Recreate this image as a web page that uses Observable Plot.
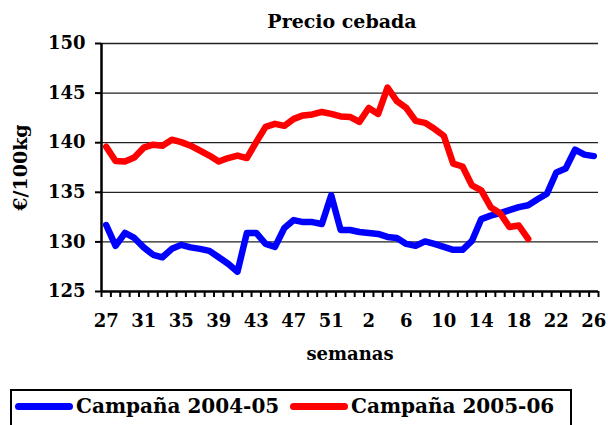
<!DOCTYPE html>
<html>
<head>
<meta charset="utf-8">
<script src="https://cdn.jsdelivr.net/npm/d3@7"></script>
<script src="https://cdn.jsdelivr.net/npm/@observablehq/plot@0.6"></script>
<style>
  body { margin: 0; background: #fff; width: 608px; height: 425px; overflow: hidden; font-family: "DejaVu Serif", serif; font-weight: bold; position: relative; }
  #title { position: absolute; left: 0; width: 608px; box-sizing: border-box; padding-left: 76px; text-align: center; font-size: 19px; line-height: 19px; top: 12px; }
  #chart { position: absolute; left: 0; top: 34px; }
  #legend { position: absolute; left: 10px; top: 389px; width: 562px; height: 60px; box-sizing: border-box; border: 2px solid #000; }
  .item { position: absolute; top: 3px; font-size: 20px; line-height: 24px; white-space: nowrap; display: flex; align-items: center; }
  .swatch { width: 58px; height: 7px; border-radius: 4px; margin-right: 3px; }
</style>
</head>
<body>
<div id="title">Precio cebada</div>
<div id="chart"></div>
<div id="legend"></div>
<script>
const weeks = [27,28,29,30,31,32,33,34,35,36,37,38,39,40,41,42,43,44,45,46,47,48,49,50,51,52,53,
               1,2,3,4,5,6,7,8,9,10,11,12,13,14,15,16,17,18,19,20,21,22,23,24,25,26];
const tickWeeks = [27,31,35,39,43,47,51,2,6,10,14,18,22,26];
const yTicks = [125,130,135,140,145,150];
const series = ["Campaña 2004-05", "Campaña 2005-06"];
const colors = ["#0000ff", "#ff0000"];
const campaign0405 = [131.7,129.6,130.9,130.4,129.45,128.7,128.45,129.3,129.7,129.45,129.3,129.1,128.45,127.8,127.0,
  130.9,130.9,129.8,129.5,131.4,132.2,132.0,132.0,131.8,134.7,131.2,131.2,
  131.0,130.9,130.8,130.5,130.4,129.8,129.6,130.05,129.8,129.5,129.2,129.2,130.1,132.3,132.65,132.9,133.2,133.5,133.7,
  134.3,134.85,137.0,137.4,139.3,138.8,138.65];
const campaign0506 = [139.6,138.15,138.1,138.5,139.5,139.8,139.7,140.3,140.06,139.7,139.2,138.7,138.1,138.45,138.7,
  138.45,140.06,141.6,141.9,141.7,142.4,142.75,142.85,143.1,142.9,142.65,142.6,
  142.1,143.5,142.9,145.55,144.2,143.5,142.2,142.0,141.4,140.7,137.9,137.6,135.7,135.2,133.5,132.9,131.5,131.65,130.3];

const data = [
  ...campaign0405.map((v, i) => ({i, v, s: series[0]})),
  ...campaign0506.map((v, i) => ({i, v, s: series[1]}))
];
const tickIdx = [];
tickWeeks.forEach((w, k) => tickIdx.push(weeks.indexOf(w, k === 0 ? 0 : tickIdx[k - 1] + 1)));

const chart = Plot.plot({
  width: 608,
  height: 340,
  marginLeft: 101,
  marginRight: 10,
  marginTop: 9,
  marginBottom: 83,
  style: {fontFamily: "DejaVu Serif", fontWeight: "bold", fontSize: "17px", color: "#000", background: "#fff", overflow: "visible"},
  x: {domain: [-0.5, weeks.length - 0.5]},
  y: {domain: [125, 150]},
  color: {domain: series, range: colors},
  marks: [
    Plot.ruleY(yTicks.slice(1), {stroke: "#222", strokeWidth: 1.3}),
    Plot.line(data, {x: "i", y: "v", z: "s", stroke: "s", strokeWidth: 6.5, strokeLinejoin: "round", strokeLinecap: "round"}),
    Plot.ruleX([-0.5], {stroke: "#000", strokeWidth: 2.5}),
    Plot.ruleY([125], {stroke: "#000", strokeWidth: 2.5}),
    Plot.axisY({ticks: yTicks, tickSize: 6, tickPadding: 10, fontSize: 18, strokeWidth: 2, label: null}),
    Plot.axisY({ticks: [], label: "€/100kg", fontSize: 19, labelAnchor: "center", labelArrow: "none", labelOffset: 88}),
    Plot.axisX({ticks: d3.range(-0.5, weeks.length, 1), tickSize: 6, strokeWidth: 2, tickFormat: () => "", label: null}),
    Plot.axisX({ticks: tickIdx, tickSize: 0, tickPadding: 23, fontSize: 18, tickFormat: i => weeks[i], label: null}),
    Plot.axisX({ticks: [], label: "semanas", fontSize: 18, labelAnchor: "center", labelArrow: "none", labelOffset: 68})
  ]
});
document.getElementById("chart").appendChild(chart);

const legend = document.getElementById("legend");
const lefts = [3, 278];
series.forEach((s, k) => {
  const it = document.createElement("div");
  it.className = "item";
  it.style.left = lefts[k] + "px";
  it.innerHTML = `<span class="swatch" style="background:${colors[k]}"></span><span>${s}</span>`;
  legend.appendChild(it);
});
</script>
</body>
</html>
